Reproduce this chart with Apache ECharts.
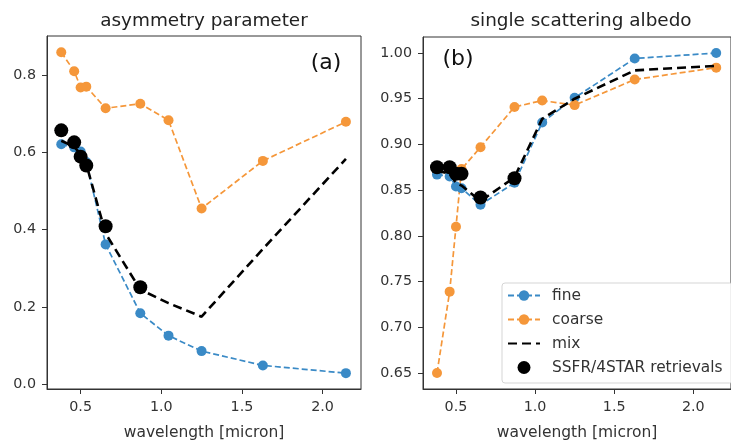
<!DOCTYPE html>
<html>
<head>
    <meta charset="UTF-8">
    <title>asymmetry parameter / single scattering albedo</title>
    <script src="https://cdn.jsdelivr.net/npm/echarts@6/dist/echarts.min.js"></script>
    <style>
        html, body { margin: 0; padding: 0; background: #fff; }
        #view { width: 731px; height: 446px; }
    </style>
</head>
<body>
<div id="view"></div>
<script type="text/javascript">
    // wavelengths [micron]
    var wavelength = [0.38, 0.46, 0.50, 0.535, 0.655, 0.87, 1.045, 1.25, 1.63, 2.145];
    var retrievalWl = [0.38, 0.46, 0.50, 0.535, 0.655, 0.87];

    // (a) asymmetry parameter
    var asyFine = [0.621, 0.613, 0.602, 0.575, 0.362, 0.184, 0.126, 0.086, 0.049, 0.029];
    var asyCoarse = [0.859, 0.810, 0.768, 0.770, 0.714, 0.726, 0.683, 0.455, 0.578, 0.679];
    var asyMix = [0.630, 0.615, 0.595, 0.570, 0.390, 0.245, 0.210, 0.175, 0.350, 0.583];
    var asyRetrieval = [0.657, 0.626, 0.589, 0.566, 0.409, 0.251];

    // (b) single scattering albedo
    var ssaFine = [0.867, 0.865, 0.854, 0.852, 0.834, 0.858, 0.924, 0.951, 0.994, 1.000];
    var ssaCoarse = [0.650, 0.739, 0.810, 0.873, 0.897, 0.941, 0.948, 0.943, 0.971, 0.984];
    var ssaMix = [0.871, 0.868, 0.858, 0.855, 0.838, 0.864, 0.928, 0.950, 0.981, 0.986];
    var ssaRetrieval = [0.875, 0.875, 0.868, 0.868, 0.842, 0.863];

    var xTicks = [0.5, 1.0, 1.5, 2.0];
    var asyTicks = [0.0, 0.2, 0.4, 0.6, 0.8];
    var ssaTicks = [0.65, 0.70, 0.75, 0.80, 0.85, 0.90, 0.95, 1.00];

    var fineColor = '#3a8ac6';
    var coarseColor = '#f5973a';
    var textColor = '#333';
    var font = 'DejaVu Sans';

    function pairs(xs, ys) {
        return xs.map(function (x, i) { return [x, ys[i]]; });
    }

    function xAxis(idx) {
        return {
            gridIndex: idx, type: 'value', min: 0.2915, max: 2.2385,
            splitLine: {show: false},
            axisLine: {show: true, onZero: false, lineStyle: {color: textColor, width: 1}},
            axisTick: {show: true, length: 5, customValues: xTicks, lineStyle: {color: textColor}},
            axisLabel: {
                customValues: xTicks, fontSize: 14.3, color: textColor, fontFamily: font, margin: 11,
                formatter: function (v) { return v.toFixed(1); }
            },
            name: 'wavelength [micron]', nameLocation: 'middle', nameGap: 36,
            nameTextStyle: {fontSize: 15.5, color: textColor, fontFamily: font}
        };
    }

    function yAxis(idx, min, max, ticks, digits) {
        return {
            gridIndex: idx, type: 'value', min: min, max: max,
            splitLine: {show: false},
            axisLine: {show: true, onZero: false, lineStyle: {color: textColor, width: 1}},
            axisTick: {show: true, length: 5, customValues: ticks, lineStyle: {color: textColor}},
            axisLabel: {
                customValues: ticks, fontSize: 14.3, color: textColor, fontFamily: font, margin: 11,
                formatter: function (v) { return v.toFixed(digits); }
            }
        };
    }

    function dashed(name, idx, xs, ys, color) {
        return {
            name: name, type: 'line', xAxisIndex: idx, yAxisIndex: idx,
            data: pairs(xs, ys),
            symbol: 'circle', symbolSize: 10,
            itemStyle: {color: color},
            lineStyle: {color: color, width: 1.7, type: [6, 3]},
            z: 2
        };
    }

    function mix(idx, ys) {
        return {
            name: 'mix', type: 'line', xAxisIndex: idx, yAxisIndex: idx,
            data: pairs(wavelength, ys),
            symbol: 'none',
            itemStyle: {color: '#000'},
            lineStyle: {color: '#000', width: 2.6, type: [9, 5]},
            z: 3
        };
    }

    function retrieval(idx, ys) {
        return {
            name: 'SSFR/4STAR retrievals', type: 'scatter', xAxisIndex: idx, yAxisIndex: idx,
            data: pairs(retrievalWl, ys),
            symbol: 'circle', symbolSize: 14,
            itemStyle: {color: '#000', opacity: 1},
            z: 4
        };
    }

    var myChart = echarts.init(document.getElementById('view'), null, {renderer: 'canvas'});

    var option = {
        animation: false,
        backgroundColor: '#fff',
        textStyle: {fontFamily: font},
        grid: [
            {left: 47, top: 36, width: 314, height: 357, show: true, borderColor: textColor, borderWidth: 1},
            {left: 423, top: 37, width: 316, height: 357, show: true, borderColor: textColor, borderWidth: 1}
        ],
        xAxis: [xAxis(0), xAxis(1)],
        yAxis: [
            yAxis(0, -0.012, 0.901, asyTicks, 1),
            yAxis(1, 0.6325, 1.0175, ssaTicks, 2)
        ],
        legend: {
            orient: 'vertical', left: 502, top: 283,
            data: [
                'fine',
                'coarse',
                {name: 'mix', itemStyle: {opacity: 0}},
                'SSFR/4STAR retrievals'
            ],
            itemWidth: 32, itemHeight: 13, itemGap: 9,
            backgroundColor: 'rgba(255,255,255,0.85)',
            borderColor: '#d5d5d5', borderWidth: 1, borderRadius: 3,
            padding: [5, 10, 8, 5],
            textStyle: {fontSize: 15.4, color: textColor, fontFamily: font, padding: [0, 0, 0, 7]}
        },
        graphic: [
            {type: 'text', x: 204, y: 21, style: {text: 'asymmetry parameter', font: '18.4px "DejaVu Sans"', fill: '#222', textAlign: 'center', textVerticalAlign: 'middle'}},
            {type: 'text', x: 581, y: 21, style: {text: 'single scattering albedo', font: '18.4px "DejaVu Sans"', fill: '#222', textAlign: 'center', textVerticalAlign: 'middle'}},
            {type: 'text', x: 326, y: 63, style: {text: '(a)', font: '22px "DejaVu Sans"', fill: '#111', textAlign: 'center', textVerticalAlign: 'middle'}},
            {type: 'text', x: 458, y: 59, style: {text: '(b)', font: '22px "DejaVu Sans"', fill: '#111', textAlign: 'center', textVerticalAlign: 'middle'}}
        ],
        series: [
            dashed('fine', 0, wavelength, asyFine, fineColor),
            dashed('coarse', 0, wavelength, asyCoarse, coarseColor),
            mix(0, asyMix),
            retrieval(0, asyRetrieval),
            dashed('fine', 1, wavelength, ssaFine, fineColor),
            dashed('coarse', 1, wavelength, ssaCoarse, coarseColor),
            mix(1, ssaMix),
            retrieval(1, ssaRetrieval)
        ]
    };
    myChart.setOption(option);
</script>
</body>
</html>
